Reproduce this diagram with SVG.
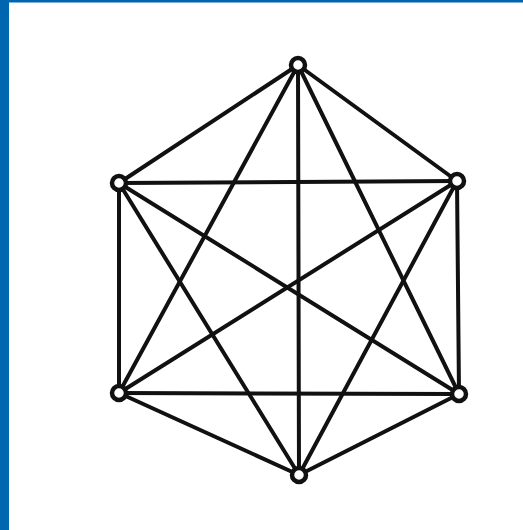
<svg xmlns="http://www.w3.org/2000/svg" width="523" height="530" viewBox="0 0 523 530">
<style>
.e{stroke:#111;stroke-width:4;stroke-linecap:round;fill:none}
.v{fill:#fff;stroke:#111;stroke-width:4.5}
</style>
<rect x="0" y="0" width="523" height="530" fill="#fff"/>
<rect x="0" y="0" width="523" height="2.5" fill="#0066b0"/>
<rect x="0" y="0" width="9" height="530" fill="#0066b0"/>
<g id="edges">
<line class="e" x1="298" y1="65" x2="119" y2="183"/>
<line class="e" x1="298" y1="65" x2="457" y2="181"/>
<line class="e" x1="298" y1="65" x2="119" y2="393"/>
<line class="e" x1="298" y1="65" x2="459" y2="394"/>
<line class="e" x1="298" y1="65" x2="299" y2="475"/>
<line class="e" x1="119" y1="183" x2="457" y2="181"/>
<line class="e" x1="119" y1="183" x2="119" y2="393"/>
<line class="e" x1="119" y1="183" x2="459" y2="394"/>
<line class="e" x1="119" y1="183" x2="299" y2="475"/>
<line class="e" x1="457" y1="181" x2="119" y2="393"/>
<line class="e" x1="457" y1="181" x2="459" y2="394"/>
<line class="e" x1="457" y1="181" x2="299" y2="475"/>
<line class="e" x1="119" y1="393" x2="459" y2="394"/>
<line class="e" x1="119" y1="393" x2="299" y2="475"/>
<line class="e" x1="459" y1="394" x2="299" y2="475"/>
</g>
<g id="v1"><circle class="v" cx="298" cy="65" r="7"/></g>
<g id="v2"><circle class="v" cx="457" cy="181" r="7"/></g>
<g id="v3"><circle class="v" cx="459" cy="394" r="7"/></g>
<g id="v4"><circle class="v" cx="299" cy="475" r="7"/></g>
<g id="v5"><circle class="v" cx="119" cy="393" r="7"/></g>
<g id="v6"><circle class="v" cx="119" cy="183" r="7"/></g>
</svg>
